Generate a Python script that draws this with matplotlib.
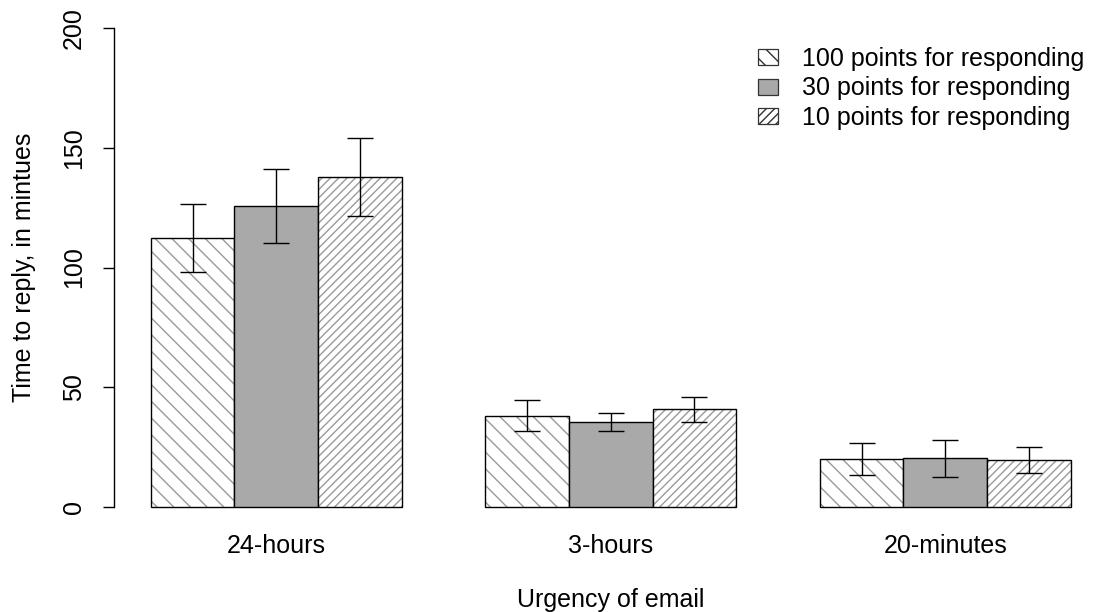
import numpy as np
import matplotlib
matplotlib.use("Agg")
import matplotlib.pyplot as plt
from matplotlib.patches import Patch

# Data
groups = ["24-hours", "3-hours", "20-minutes"]
series = ["100 points for responding", "30 points for responding", "10 points for responding"]
means_100 = [112.3, 38.0, 20.0]
means_30 = [125.7, 35.5, 20.5]
means_10 = [137.8, 40.9, 19.6]
lo_100 = [98.0, 31.7, 13.4]
hi_100 = [126.6, 44.7, 26.7]
lo_30 = [110.2, 31.7, 12.5]
hi_30 = [141.1, 39.2, 28.0]
lo_10 = [121.5, 35.5, 14.2]
hi_10 = [154.0, 45.9, 25.0]

plt.rcParams["font.family"] = ["Liberation Sans", "DejaVu Sans"]
plt.rcParams["hatch.linewidth"] = 1.0
FS = 18

fig = plt.figure(figsize=(10.97, 6.12), dpi=100)
# axes placed so that the R-style barplot coordinates line up
ax = fig.add_axes([114 / 1097, (612 - 526) / 612, (1097 - 114) / 1097, (526 - 9) / 612])

means = [means_100, means_30, means_10]
lows = [lo_100, lo_30, lo_10]
highs = [hi_100, hi_30, hi_10]
hatches = ["\\\\", None, "////"]
fills = ["white", "#A9A9A9", "white"]

# R barplot: beside=TRUE, space=c(0,1), width 1
for i in range(3):
    x = np.arange(3) * 4 + 1.5 + i
    # hatch layer (gray lines)
    ax.bar(x, means[i], width=1.0, color=fills[i], edgecolor="#9a9a9a",
           hatch=hatches[i], linewidth=0)
    # outline
    ax.bar(x, means[i], width=1.0, fill=False, edgecolor="black", linewidth=1.0)
    m = np.array(means[i])
    yerr = [m - np.array(lows[i]), np.array(highs[i]) - m]
    ax.errorbar(x, m, yerr=yerr, fmt="none", ecolor="black", elinewidth=1.0,
                capsize=9.5, capthick=1.0)

ax.set_xlim(0.56, 1 + (1097 - 151) / 83.6)
ax.set_ylim(-8, 208)

for s in ["top", "right", "bottom"]:
    ax.spines[s].set_visible(False)
ax.spines["left"].set_bounds(0, 200)
ax.spines["left"].set_linewidth(1.0)

ax.set_yticks([0, 50, 100, 150, 200])
ax.set_yticklabels(["0", "50", "100", "150", "200"], rotation=90, va="center", fontsize=FS)
ax.tick_params(axis="y", length=8, width=1.0, pad=12)

ax.set_xticks(np.arange(3) * 4 + 2.5)
ax.set_xticklabels(groups, fontsize=FS)
ax.tick_params(axis="x", length=0, pad=6)

ax.set_ylabel("Time to reply, in mintues", fontsize=FS, labelpad=19)
fig.text((114 + 1108) / 2 / 1097, 1 - 607 / 612, "Urgency of email", fontsize=FS,
         ha="center", va="baseline")

handles = [Patch(facecolor=fills[i], edgecolor="#333333", hatch=hatches[i], linewidth=0.9)
           for i in range(3)]
ax.legend(handles, series, loc="upper left", bbox_to_anchor=(758 / 1097, 1 - 47 / 612),
          bbox_transform=fig.transFigure, frameon=False, fontsize=FS,
          handlelength=0.8, handleheight=0.6, handletextpad=0.95, labelspacing=0.22,
          borderpad=0, borderaxespad=0)

fig.savefig("out.png", dpi=100)
